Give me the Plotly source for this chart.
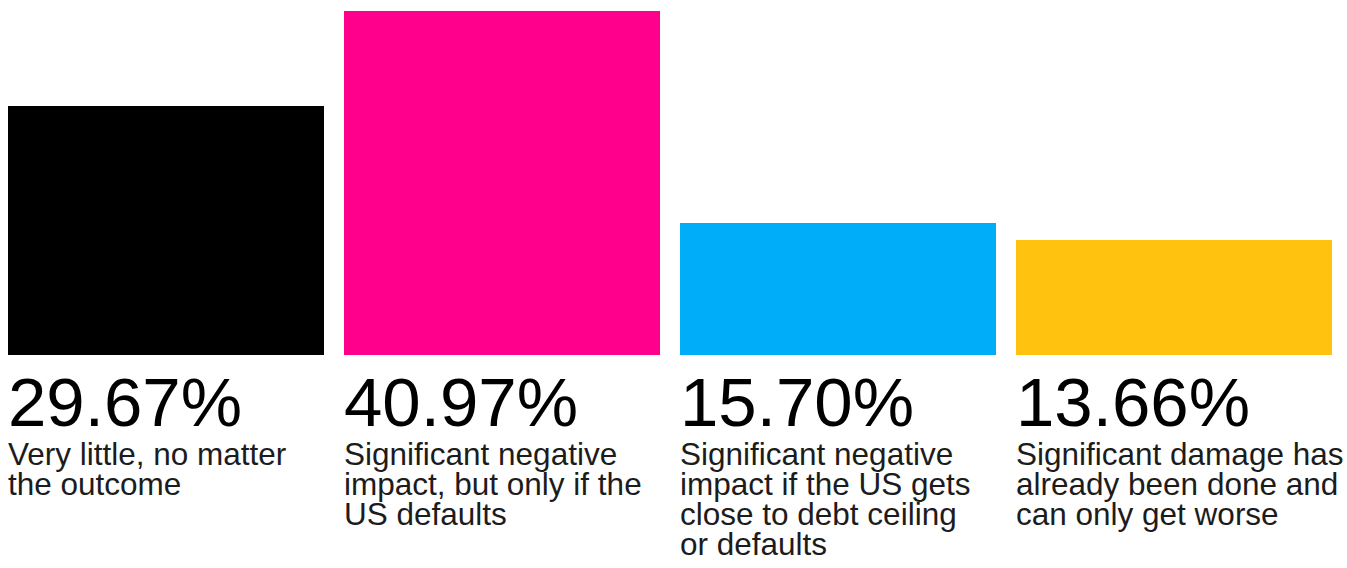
import plotly.graph_objects as go

categories = [
    "Very little, no matter the outcome",
    "Significant negative impact, but only if the US defaults",
    "Significant negative impact if the US gets close to debt ceiling or defaults",
    "Significant damage has already been done and can only get worse",
]
label_lines = [
    ["Very little, no matter", "the outcome"],
    ["Significant negative", "impact, but only if the", "US defaults"],
    ["Significant negative", "impact if the US gets", "close to debt ceiling", "or defaults"],
    ["Significant damage has", "already been done and", "can only get worse"],
]
values = [29.67, 40.97, 15.70, 13.66]
colors = ["#000000", "#FF008C", "#00ADF9", "#FFC20E"]

W, H = 1347, 568
px_per_unit = 8.4      # pixels per percentage point
zero_px = 355          # pixel row of the baseline
slot = 336.0           # pixels per category
first_center = 166.0
bar_px = 316.0
bar_w = bar_px / slot

xs = list(range(len(values)))
x_range = [-first_center / slot, (W - first_center) / slot]
y_range = [-(H - zero_px) / px_per_unit, zero_px / px_per_unit]


def py_to_y(py):
    return (zero_px - py) / px_per_unit


fig = go.Figure()
fig.add_trace(go.Bar(
    x=xs, y=values, width=bar_w,
    marker=dict(color=colors, line=dict(width=0)),
    hoverinfo="skip", showlegend=False,
))

font_family = "Liberation Sans, Arial, sans-serif"
annotations = []
for i, (v, lines) in enumerate(zip(values, label_lines)):
    left_px = first_center + slot * i - bar_px / 2
    left = left_px / W
    annotations.append(dict(
        x=left, y=py_to_y(402), xref="paper", yref="y", xshift=-2,
        text=f"{v:.2f}%", showarrow=False, xanchor="left", yanchor="middle",
        font=dict(family=font_family, size=69, color="#000000"),
    ))
    for j, line in enumerate(lines):
        annotations.append(dict(
            x=left, y=py_to_y(454 + 30 * j), xref="paper", yref="y", xshift=-2,
            text=line, showarrow=False, xanchor="left", yanchor="middle",
            font=dict(family=font_family, size=31.5, color="#1c1c1c"),
        ))

fig.update_layout(
    width=W, height=H,
    margin=dict(l=0, r=0, t=0, b=0),
    paper_bgcolor="#ffffff", plot_bgcolor="#ffffff",
    xaxis=dict(range=x_range, visible=False, fixedrange=True),
    yaxis=dict(range=y_range, visible=False, fixedrange=True),
    annotations=annotations,
    bargap=0,
)

fig.write_html(
    "out.html",
    config={"displayModeBar": False},
    post_script="document.body.style.margin='0';document.body.style.overflow='hidden';",
)
